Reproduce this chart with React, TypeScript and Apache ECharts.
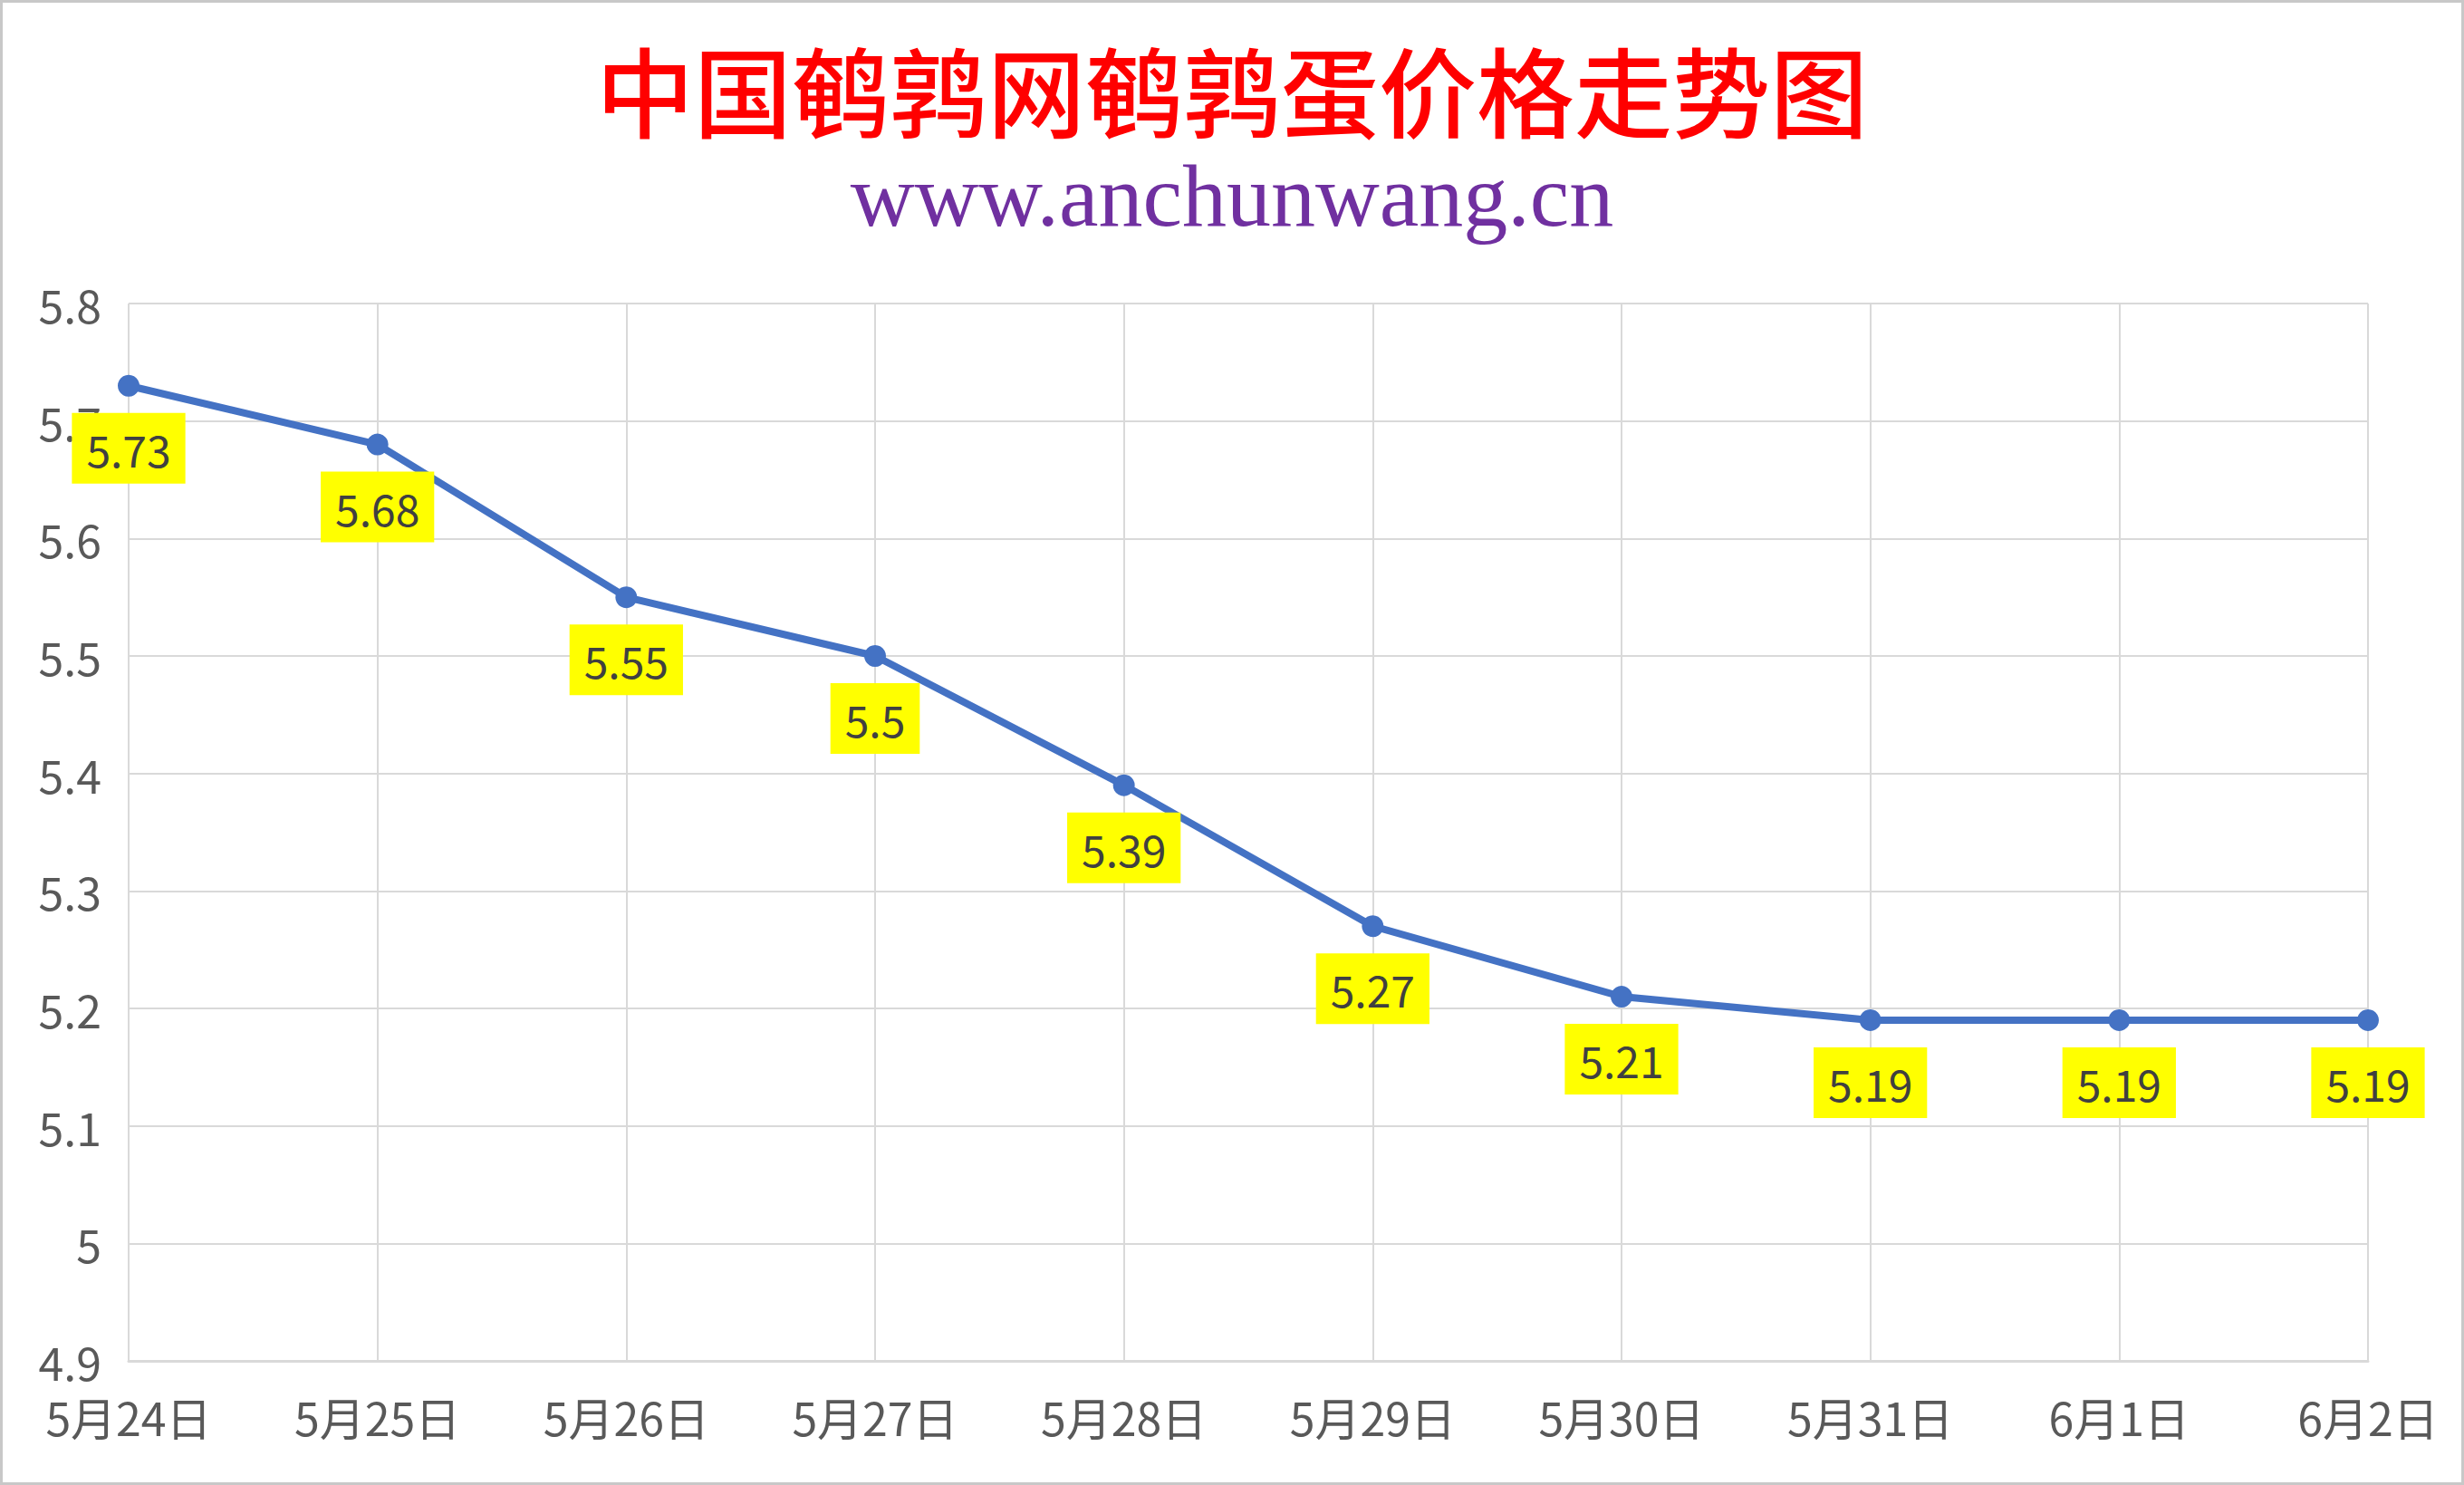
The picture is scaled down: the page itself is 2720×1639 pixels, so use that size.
import React, { useEffect, useRef } from "react";
import * as echarts from "echarts";

const titleText = "中国鹌鹑网鹌鹑蛋价格走势图";
const subtitleText = "www.anchunwang.cn";
const categories = ["5月24日", "5月25日", "5月26日", "5月27日", "5月28日", "5月29日", "5月30日", "5月31日", "6月1日", "6月2日"];
const prices = [5.73, 5.68, 5.55, 5.5, 5.39, 5.27, 5.21, 5.19, 5.19, 5.19];
const yMin = 4.9;
const yMax = 5.8;
const yInterval = 0.1;

const W = 2720;
const H = 1639;
const FONT = "'Noto Sans CJK SC', 'Noto Sans', sans-serif";

export default function App() {
  const ref = useRef<HTMLDivElement>(null);
  useEffect(() => {
    document.body.style.margin = "0";
    const chart = echarts.init(ref.current!, undefined, { renderer: "svg" });
    chart.setOption({
      animation: false,
      backgroundColor: "#ffffff",
      title: [
        {
          text: titleText,
          left: "center",
          top: 38,
          textStyle: { color: "#FF0000", fontSize: 108, fontWeight: 500, fontFamily: FONT },
        },
        {
          text: subtitleText,
          left: "center",
          top: 162,
          textStyle: { color: "#7030A0", fontSize: 98, fontWeight: "normal", fontFamily: "'Liberation Serif', serif" },
        },
      ],
      graphic: [
        {
          type: "rect",
          shape: { x: 1.5, y: 1.5, width: W - 3, height: H - 3 },
          style: { fill: "none", stroke: "#C8C8C8", lineWidth: 3 },
          silent: true,
        },
      ],
      grid: { left: 142, right: 106, top: 335, bottom: 137, containLabel: false },
      xAxis: {
        type: "category",
        data: categories,
        boundaryGap: false,
        axisLine: { show: true, lineStyle: { color: "#D9D9D9", width: 3 } },
        axisTick: { show: false },
        splitLine: { show: true, lineStyle: { color: "#D9D9D9", width: 2 } },
        axisLabel: { color: "#595959", fontSize: 50, fontFamily: FONT, margin: 36 },
      },
      yAxis: {
        type: "value",
        min: yMin,
        max: yMax,
        interval: yInterval,
        axisLine: { show: false },
        axisTick: { show: false },
        splitLine: { show: true, lineStyle: { color: "#D9D9D9", width: 2 } },
        axisLabel: { color: "#595959", fontSize: 50, fontFamily: FONT, margin: 30 },
      },
      series: [
        {
          type: "line",
          data: prices,
          symbol: "circle",
          symbolSize: 24,
          itemStyle: { color: "#4472C4" },
          lineStyle: { color: "#4472C4", width: 8 },
          label: {
            show: true,
            position: "bottom",
            distance: 18,
            color: "#404040",
            fontSize: 48,
            fontFamily: FONT,
            backgroundColor: "#FFFF00",
            padding: [12, 16],
            lineHeight: 54,
          },
        },
      ],
    });
    return () => chart.dispose();
  }, []);
  return <div ref={ref} style={{ width: W, height: H }} />;
}
